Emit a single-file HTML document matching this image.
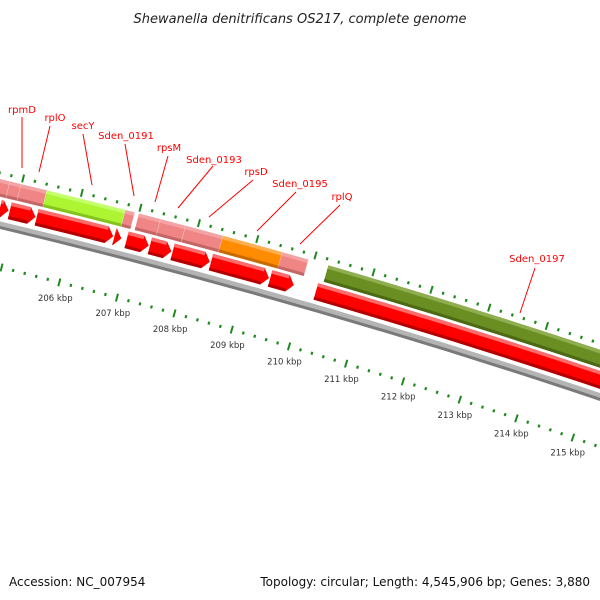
<!DOCTYPE html>
<html><head><meta charset="utf-8"><style>
html,body{margin:0;padding:0;background:#fff;}
svg{display:block;font-family:"DejaVu Sans","Liberation Sans",sans-serif;}
</style></head><body>
<svg id="map" width="600" height="600" viewBox="0 0 600 600" xmlns="http://www.w3.org/2000/svg">
<rect width="600" height="600" fill="#fff"/>
<text x="300" y="23" text-anchor="middle" font-size="13" font-style="italic" fill="#222">Shewanella denitrificans OS217, complete genome</text>
<g id="tracks"></g>
<g id="outer" transform="rotate(-0.6 600 396)"></g>
<g id="labels"></g>
<text x="9" y="586" font-size="12" fill="#111">Accession: NC_007954</text>
<text x="590" y="586" text-anchor="end" font-size="12" fill="#111">Topology: circular; Length: 4,545,906 bp; Genes: 3,880</text>
</svg>
<script>
// data (kbp)
const tickLabelKbp = [206,207,208,209,210,211,212,213,214,215];
const arrowStarts = [204.30,204.74,204.91,205.37,206.70,206.91,207.31,207.70,208.36,209.38,210.17];
const arrowEnds   = [204.72,204.89,205.35,206.68,206.82,207.29,207.68,208.34,209.36,209.79,216.50];
const boxStarts = [204.30,204.80,204.99,205.43,206.77,207.00,207.37,207.80,208.44,209.46,210.25];
const boxEnds   = [204.80,204.99,205.43,206.77,206.93,207.37,207.80,208.44,209.46,209.91,216.50];
const boxColors = ['pink','pink','pink','lime','pink','pink','pink','pink','orange','pink','olive'];
const geneNames = ['rpmD','rplO','secY','Sden_0191','rpsM','Sden_0193','rpsD','Sden_0195','rplQ','Sden_0197'];

const NS='http://www.w3.org/2000/svg';
const CX=-1684, CY=6975, PHI0=14.6, DPHI=0.494;
function ang(k){return (PHI0+(k-206)*DPHI)*Math.PI/180;}
function P(r,k){const a=ang(k);return [CX+r*Math.sin(a), CY-r*Math.cos(a)];}
function f(p){return p[0].toFixed(2)+' '+p[1].toFixed(2);}
function band(r1,r2,k1,k2){
  return 'M'+f(P(r2,k1))+' A'+r2+' '+r2+' 0 0 1 '+f(P(r2,k2))+' L'+f(P(r1,k2))+' A'+r1+' '+r1+' 0 0 0 '+f(P(r1,k1))+' Z';
}
const tracks=document.getElementById('tracks');
const outer=document.getElementById('outer');
function mk(tag,attrs,parent){const e=document.createElementNS(NS,tag);for(const a in attrs)e.setAttribute(a,attrs[a]);(parent||tracks).appendChild(e);return e;}

// backbone
let bb=mk('path',{d:band(6960,6967,203,217),fill:'#b4b4b4'},outer);


let bbd=mk('path',{d:band(6959.5,6962.5,203,217),fill:'#7a7a7a'},outer);



// ticks
function ticks(rc,name,parent){
  const g=mk('g',{},parent);
  
  
  for(let i=0;i<=70;i++){
    const k=203+i*0.2;
    const major=(i%5===0);
    const a=P(rc-(major?4:1.5),k), b=P(rc+(major?4:1.5),k);
    const t=mk('line',{x1:a[0],y1:a[1],x2:b[0],y2:b[1],stroke:'#1e8a1e','stroke-width':major?2:2.2},g);
    
    
  }
}
ticks(6916,'inner-tick-ring',tracks);
ticks(7014,'outer-tick-ring',outer);

// tick labels
tickLabelKbp.forEach(k=>{
  const p=P(6900,k);
  const t=mk('text',{x:p[0],y:p[1]+3,'text-anchor':'middle','font-size':'8.5',fill:'#333'});
  t.textContent=k+' kbp';
  
  
});

// outer boxes
const R1=6991,R2=7008;
const pal={pink:['#f3a3a3','#ef8585','#c46666'],lime:['#c4ff6a','#adf533','#86c21e'],orange:['#ffae50','#ff8c00','#c86a00'],olive:['#8fae50','#6b8e23','#4c6a14']};
boxStarts.forEach((s,i)=>{
  const e=boxEnds[i], c=pal[boxColors[i]];
  const g=mk('g',{},outer);
  
  
  mk('path',{d:band(R1,R2,s,e),fill:c[1]},g);
  mk('path',{d:band(R2-3.5,R2,s,e),fill:c[0]},g);
  mk('path',{d:band(R1,R1+3,s,e),fill:c[2]},g);
  const a=P(R1,e),b=P(R2,e);
  mk('line',{x1:a[0],y1:a[1],x2:b[0],y2:b[1],stroke:'#fff','stroke-width':0.8,'stroke-opacity':0.7},g);
});

// inner arrows
const H=0.11, A1=6971, A2=6988, AM=(A1+A2)/2;
arrowStarts.forEach((s,i)=>{
  const e=arrowEnds[i];
  const g=mk('g',{},outer);
  
  
  const hb=Math.max(s,e-H);
  const d='M'+f(P(A2,s))+' A'+A2+' '+A2+' 0 0 1 '+f(P(A2,hb))+' L'+f(P(AM,e))+' L'+f(P(A1,hb))+' A'+A1+' '+A1+' 0 0 0 '+f(P(A1,s))+' Z';
  mk('path',{d:d,fill:'#ff0000'},g);
  mk('path',{d:band(A2-3.5,A2,s,hb),fill:'#ff6a6a'},g);
  mk('path',{d:band(A1,A1+3,s,hb),fill:'#b30000'},g);
});

// gene labels with leader lines
const lab=document.getElementById('labels');
const labelPos=[[22,113],[55,121],[83,129],[126,139],[169,151],[214,163],[256,175],[300,187],[342,200],[537,262]];
const linePos=[[22,117,22,168],[50,126,39,172],[83,134,92,185],[125,144,134,196],[168,156,155,202],[213,166,178,208],[253,180,209,217],[296,192,257,231],[340,205,300,244],[535,268,520,313]];
geneNames.forEach((n,i)=>{
  const l=document.createElementNS(NS,'line');
  const q=linePos[i];
  l.setAttribute('x1',q[0]);l.setAttribute('y1',q[1]);l.setAttribute('x2',q[2]);l.setAttribute('y2',q[3]);
  l.setAttribute('stroke','#ff0000');l.setAttribute('stroke-width','1');
  
  
  lab.appendChild(l);
  const t=document.createElementNS(NS,'text');
  t.setAttribute('x',labelPos[i][0]);t.setAttribute('y',labelPos[i][1]);
  t.setAttribute('text-anchor','middle');t.setAttribute('font-size','10');t.setAttribute('fill','#ff0000');
  t.textContent=n;
  
  
  lab.appendChild(t);
});
</script>
</body></html>
